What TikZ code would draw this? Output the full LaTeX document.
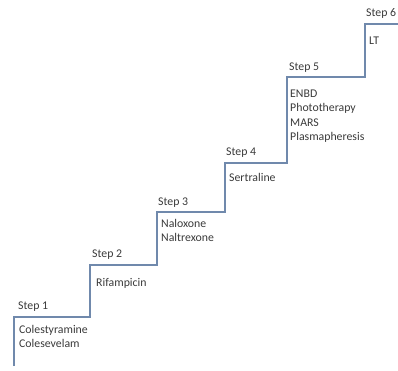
\documentclass[tikz,border=0pt]{standalone}
\usepackage{fontspec}
\setmainfont{Carlito}
\begin{document}
\begin{tikzpicture}[x=1pt,y=-1pt,
  stair/.style={draw=stairc,line width=1.8pt},
  lbl/.style={anchor=base west,inner sep=0pt,text=txtc,font=\fontsize{11.8}{14.6}\selectfont,align=left}]
\definecolor{stairc}{HTML}{7089AC}
\definecolor{txtc}{HTML}{3A3A3A}
\useasboundingbox (0,0) rectangle (398,370);
\coordinate (p0) at (14,366);
\coordinate (p1) at (14,317);
\coordinate (p2) at (90,317);
\coordinate (p3) at (90,265);
\coordinate (p4) at (157,265);
\coordinate (p5) at (157,212);
\coordinate (p6) at (225,212);
\coordinate (p7) at (225,163);
\coordinate (p8) at (287,163);
\coordinate (p9) at (287,77);
\coordinate (p10) at (365,77);
\coordinate (p11) at (365,24);
\coordinate (p12) at (398,24);
\draw[stair] (p0) -- (p1) -- (p2) -- (p3) -- (p4) -- (p5) -- (p6) -- (p7) -- (p8) -- (p9) -- (p10) -- (p11) -- (p12);
\node[lbl] (s1) at (18,309) {Step 1};
\node[lbl] (t1) at (19,347.6) {Colestyramine\\Colesevelam};
\node[lbl] (s2) at (92,257) {Step 2};
\node[lbl] (t2) at (96,286) {Rifampicin};
\node[lbl] (s3) at (158,205) {Step 3};
\node[lbl] (t3) at (161,241.6) {Naloxone\\Naltrexone};
\node[lbl] (s4) at (226,155) {Step 4};
\node[lbl] (t4) at (229,181) {Sertraline};
\node[lbl] (s5) at (289,70) {Step 5};
\node[lbl] (t5) at (290,140.8) {ENBD\\Phototherapy\\MARS\\Plasmapheresis};
\node[lbl] (s6) at (366,16) {Step 6};
\node[lbl] (t6) at (369,44) {LT};
\end{tikzpicture}
\end{document}
